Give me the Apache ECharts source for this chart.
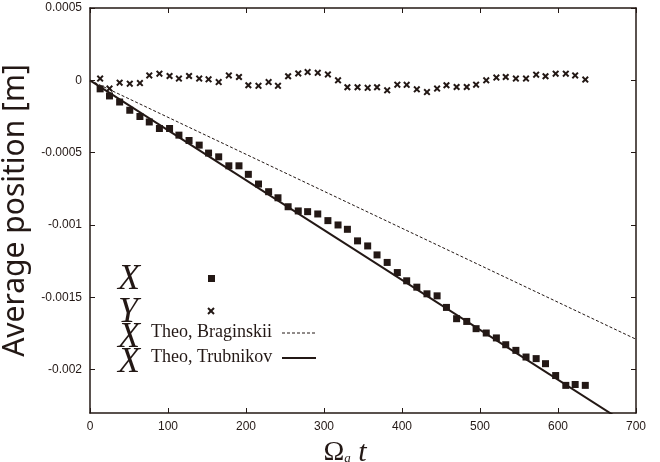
<!DOCTYPE html>
<html>
<head>
<meta charset="utf-8">
<script src="https://cdn.jsdelivr.net/npm/echarts@6/dist/echarts.min.js"></script>
<style>
    html, body { margin: 0; padding: 0; background: #ffffff; }
    #myChart { width: 660px; height: 462px; }
</style>
</head>
<body>
<div id="myChart"></div>
<script>
    // Omega_a t sample times
    const timeSteps = [13, 25, 38, 51, 64, 76, 89, 102, 114, 127,
        140, 152, 165, 178, 191, 203, 216, 229, 241, 254,
        267, 279, 292, 305, 318, 330, 343, 356, 368, 381,
        394, 406, 419, 432, 445, 457, 470, 483, 495, 508,
        521, 533, 546, 559, 572, 584, 597, 610, 622, 635];
    // average X position [m]
    const meanX = [-0.000059, -0.000108, -0.000150, -0.000207, -0.000250, -0.000288, -0.000333, -0.000333, -0.000379, -0.000416,
        -0.000448, -0.000503, -0.000529, -0.000591, -0.000591, -0.000650, -0.000717, -0.000770, -0.000812, -0.000874,
        -0.000903, -0.000908, -0.000924, -0.000970, -0.001000, -0.001030, -0.001110, -0.001145, -0.001207, -0.001259,
        -0.001329, -0.001386, -0.001430, -0.001476, -0.001490, -0.001570, -0.001648, -0.001667, -0.001717, -0.001747,
        -0.001781, -0.001828, -0.001867, -0.001913, -0.001924, -0.001959, -0.002041, -0.002109, -0.002103, -0.002109];
    // average Y position [m]
    const meanY = [0.000012, -0.000057, -0.000016, -0.000023, -0.000019, 0.000034, 0.000046, 0.000030, 0.000012, 0.000030,
        0.000012, 0.000007, -0.000012, 0.000034, 0.000023, -0.000034, -0.000038, -0.000012, -0.000038, 0.000028,
        0.000048, 0.000057, 0.000052, 0.000041, 0.000000, -0.000048, -0.000048, -0.000052, -0.000048, -0.000069,
        -0.000030, -0.000031, -0.000062, -0.000081, -0.000057, -0.000034, -0.000046, -0.000046, -0.000030, 0.000000,
        0.000019, 0.000023, 0.000012, 0.000012, 0.000039, 0.000028, 0.000046, 0.000046, 0.000034, 0.000005];
    // theory lines (end points)
    const braginskiiT = [0, 700];
    const braginskiiX = [0, -0.00179];
    const trubnikovT = [0, 700];
    const trubnikovX = [0, -0.002415];

    const xTicks = [0, 100, 200, 300, 400, 500, 600, 700];
    const yTicks = [-0.002, -0.0015, -0.001, -0.0005, 0, 0.0005];
    const yTickLabels = ['-0.002', '-0.0015', '-0.001', '-0.0005', '0', '0.0005'];

    const ink = '#231815';
    const crossPath = 'path://M0,2 L2,0 L5,3 L8,0 L10,2 L7,5 L10,8 L8,10 L5,7 L2,10 L0,8 L3,5 Z';

    function pairs(a, b) { return a.map((v, i) => [v, b[i]]); }
    function yLabel(v) {
        for (let i = 0; i < yTicks.length; i++) {
            if (Math.abs(yTicks[i] - v) < 1e-9) return yTickLabels[i];
        }
        return '';
    }

    const tickFont = { fontFamily: 'Liberation Sans', fontSize: 12, color: ink };
    const axisLine = { show: true, onZero: false, lineStyle: { color: ink, width: 1.5 } };
    const axisTick = { show: true, inside: true, length: 5, lineStyle: { color: ink, width: 1 } };

    let myChart = echarts.init(document.getElementById('myChart'));
    myChart.setOption({
        animation: false,
        backgroundColor: '#ffffff',
        grid: { left: 90, right: 24, top: 8, bottom: 49, containLabel: false, outerBoundsMode: 'none' },
        xAxis: [{
            type: 'value', min: 0, max: 700, interval: 100,
            axisLine: axisLine, axisTick: axisTick, splitLine: { show: false },
            axisLabel: Object.assign({ margin: 8 }, tickFont),
            name: '{o|Ω}{a|a}{t| t}',
            nameLocation: 'middle', nameGap: 24,
            nameTextStyle: {
                padding: [0, 36, 0, 0],
                rich: {
                    o: { fontFamily: 'Liberation Serif', fontSize: 28, color: ink },
                    a: { fontFamily: 'Liberation Serif', fontStyle: 'italic', fontSize: 13, color: ink, padding: [12, 0, 0, 0] },
                    t: { fontFamily: 'Liberation Serif', fontStyle: 'italic', fontSize: 30, color: ink }
                }
            }
        }, {
            type: 'value', min: 0, max: 700, interval: 100, position: 'top',
            axisLine: axisLine, axisTick: axisTick, splitLine: { show: false },
            axisLabel: { show: false }
        }],
        yAxis: [{
            type: 'value', min: -0.0023, max: 0.0005,
            axisLine: axisLine,
            axisTick: Object.assign({ customValues: yTicks }, axisTick),
            splitLine: { show: false },
            axisLabel: Object.assign({ customValues: yTicks, formatter: yLabel, margin: 8 }, tickFont),
            name: 'Average position [m]',
            nameLocation: 'middle', nameGap: 52, nameRotate: 90,
            nameTextStyle: { fontFamily: 'Noto Sans', fontSize: 30, color: ink }
        }, {
            type: 'value', min: -0.0023, max: 0.0005, position: 'right',
            axisLine: axisLine,
            axisTick: Object.assign({ customValues: yTicks }, axisTick),
            splitLine: { show: false },
            axisLabel: { show: false }
        }],
        series: [{
            name: 'X', type: 'scatter', data: pairs(timeSteps, meanX),
            symbol: 'rect', symbolSize: 7, itemStyle: { color: ink, opacity: 1 }, z: 3
        }, {
            name: 'Y', type: 'scatter', data: pairs(timeSteps, meanY),
            symbol: crossPath, symbolSize: 7, itemStyle: { color: ink, opacity: 1 }, z: 3
        }, {
            name: 'Braginskii', type: 'line', data: pairs(braginskiiT, braginskiiX),
            showSymbol: false, symbol: 'none', clip: true,
            lineStyle: { color: ink, width: 1, type: [3, 2] }, z: 2
        }, {
            name: 'Trubnikov', type: 'line', data: pairs(trubnikovT, trubnikovX),
            showSymbol: false, symbol: 'none', clip: true,
            lineStyle: { color: ink, width: 2 }, z: 2
        }],
        graphic: [
            // key, drawn by hand like the original
            { type: 'text', left: 118, top: 262, style: { text: 'X', font: 'italic 36px "Liberation Serif"', fill: ink } },
            { type: 'rect', shape: { x: 208, y: 275, width: 7, height: 7 }, style: { fill: ink } },
            { type: 'text', left: 118, top: 295, style: { text: 'Y', font: 'italic 36px "Liberation Serif"', fill: ink } },
            { type: 'line', shape: { x1: 208, y1: 308, x2: 214, y2: 314 }, style: { stroke: ink, lineWidth: 2 } },
            { type: 'line', shape: { x1: 214, y1: 308, x2: 208, y2: 314 }, style: { stroke: ink, lineWidth: 2 } },
            { type: 'text', left: 118, top: 320, style: { text: 'X', font: 'italic 36px "Liberation Serif"', fill: ink } },
            { type: 'text', left: 151, top: 323, style: { text: 'Theo, Braginskii', font: '18px "Liberation Serif"', fill: ink } },
            { type: 'line', shape: { x1: 282, y1: 333, x2: 316, y2: 333 }, style: { stroke: ink, lineWidth: 1, lineDash: [3, 2] } },
            { type: 'text', left: 118, top: 345, style: { text: 'X', font: 'italic 36px "Liberation Serif"', fill: ink } },
            { type: 'text', left: 151, top: 348, style: { text: 'Theo, Trubnikov', font: '18px "Liberation Serif"', fill: ink } },
            { type: 'line', shape: { x1: 282, y1: 358, x2: 316, y2: 358 }, style: { stroke: ink, lineWidth: 2 } }
        ]
    });
</script>
</body>
</html>
